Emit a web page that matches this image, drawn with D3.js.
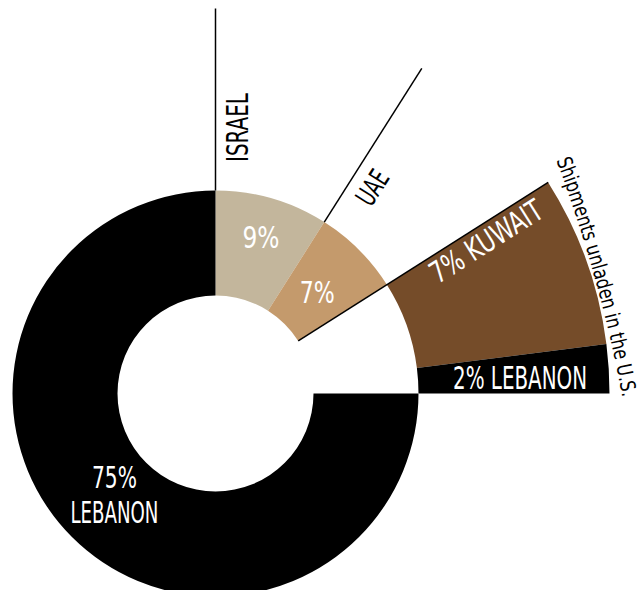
<!DOCTYPE html>
<html>
<head>
<meta charset="utf-8">
<script src="https://cdn.jsdelivr.net/npm/d3@7"></script>
<style>
  body { margin: 0; background: #fff; }
  svg { display: block; }
  text { font-family: "Liberation Sans Narrow", "DejaVu Sans Condensed", sans-serif; }
</style>
</head>
<body>
<svg id="chart"></svg>
<script>
// data, in drawing order clockwise from 12 o'clock
const countries = ["ISRAEL", "UAE", "KUWAIT", "LEBANON", "LEBANON"];
const shares    = [9, 7, 7, 2, 75];
const unladen   = [false, false, true, true, false];
const sliceColors = ["#c3b69c", "#c49a6c", "#754c29", "#000000", "#000000"];
const unladenTitle = "Shipments unladen in the U.S.";

const width = 639, height = 590;
const cx = 215.5, cy = 393.5;
const rInner = 98, rOuter = 203, rExploded = 394, rLeader = 385;

const svg = d3.select("#chart").attr("width", width).attr("height", height);
const g = svg.append("g").attr("transform", `translate(${cx},${cy})`);

const pie = d3.pie().sort(null).value(d => d.share);
const slices = pie(countries.map((c, i) => ({country: c, share: shares[i], unladen: unladen[i], i})));

const arc = d3.arc()
  .innerRadius(d => d.data.unladen ? rOuter : rInner)
  .outerRadius(d => d.data.unladen ? rExploded : rOuter);

g.selectAll("path.slice")
  .data(slices)
  .join("path")
    .attr("class", "slice")
    .attr("d", arc)
    .attr("fill", d => sliceColors[d.data.i]);

// polar helper, angle from 12 o'clock clockwise
function polar(a, r) { return [r * Math.sin(a), -r * Math.cos(a)]; }
const deg = a => a * 180 / Math.PI;

// edge of the unladen group
const firstUnladen = slices.find(d => d.data.unladen);
const e0 = polar(firstUnladen.startAngle, rInner), e1 = polar(firstUnladen.startAngle, rExploded);
g.append("line")
  .attr("x1", e0[0]).attr("y1", e0[1]).attr("x2", e1[0]).attr("y2", e1[1])
  .attr("stroke", "#000").attr("stroke-width", 1.5);

// leader lines + names for the outside labels
const nameLabels = [
  {i: 0, along: 266, size: 30, len: 69},
  {i: 1, along: 258, size: 28, len: 36}
];
nameLabels.forEach(n => {
  const s = slices[n.i];
  const a = s.startAngle;
  const p0 = polar(a, rOuter), p1 = polar(a, rLeader);
  g.append("line")
    .attr("x1", p0[0]).attr("y1", p0[1]).attr("x2", p1[0]).attr("y2", p1[1])
    .attr("stroke", "#000").attr("stroke-width", 1.5);
  const p = polar(a, n.along);
  const off = 32;
  const x = p[0] + off * Math.cos(a), y = p[1] + off * Math.sin(a);
  g.append("text")
    .attr("transform", `translate(${x},${y}) rotate(${deg(a) - 90})`)
    .attr("text-anchor", "middle")
    .attr("font-size", n.size)
    .attr("textLength", n.len).attr("lengthAdjust", "spacingAndGlyphs")
    .attr("fill", "#000")
    .text(s.data.country);
});

// labels inside slices
function midAngle(s) { return (s.startAngle + s.endAngle) / 2; }

function centerLabel(s, r, lines, lens, gap) {
  const p = polar(midAngle(s), r);
  const top = p[1] - (lines.length - 1) * gap / 2 + 11;
  lines.forEach((t, k) => {
    g.append("text")
      .attr("x", p[0]).attr("y", top + k * gap)
      .attr("text-anchor", "middle")
      .attr("font-size", 30)
      .attr("textLength", lens[k]).attr("lengthAdjust", "spacingAndGlyphs")
      .attr("fill", "#fff")
      .text(t);
  });
}
centerLabel(slices[0], 163, [shares[0] + "%"], [37], 0);
centerLabel(slices[1], 144, [shares[1] + "%"], [35], 0);
centerLabel(slices[4], 143, [shares[4] + "%", countries[4]], [45, 88], 35);

// kuwait label, parallel to the slice's top edge
{
  const s = slices[2], a = s.startAngle;
  const p = polar(a, 310);
  const x = p[0] + 27 * Math.cos(a), y = p[1] + 27 * Math.sin(a);
  g.append("text")
    .attr("transform", `translate(${x},${y}) rotate(${deg(a) - 90})`)
    .attr("text-anchor", "middle")
    .attr("font-size", 30)
    .attr("textLength", 128).attr("lengthAdjust", "spacingAndGlyphs")
    .attr("fill", "#fff")
    .text(shares[2] + "% " + countries[2]);
}

// small lebanon label, horizontal
{
  const s = slices[3];
  const p = polar(s.endAngle, 371.5);
  g.append("text")
    .attr("x", p[0]).attr("y", p[1] - 5)
    .attr("text-anchor", "end")
    .attr("font-size", 32)
    .attr("textLength", 134).attr("lengthAdjust", "spacingAndGlyphs")
    .attr("fill", "#fff")
    .text(shares[3] + "% " + countries[3]);
}

// title for the unladen group along a gentle curve
{
  const a0 = 55.6 * Math.PI / 180, a1 = 90.6 * Math.PI / 180;
  const s0 = polar(a0, 413), s1 = polar(a1, 407);
  svg.append("defs").append("path")
    .attr("id", "unladenPath")
    .attr("d", `M${cx + s0[0]},${cy + s0[1]} A1400,1400 0 0 1 ${cx + s1[0]},${cy + s1[1]}`);
  const len = Math.hypot(s1[0] - s0[0], s1[1] - s0[1]);
  svg.append("text")
    .attr("font-size", 21)
    .attr("fill", "#000")
    .append("textPath")
      .attr("href", "#unladenPath")
      .attr("startOffset", 0)
      .attr("textLength", len).attr("lengthAdjust", "spacingAndGlyphs")
      .text(unladenTitle);
}
</script>
</body>
</html>
